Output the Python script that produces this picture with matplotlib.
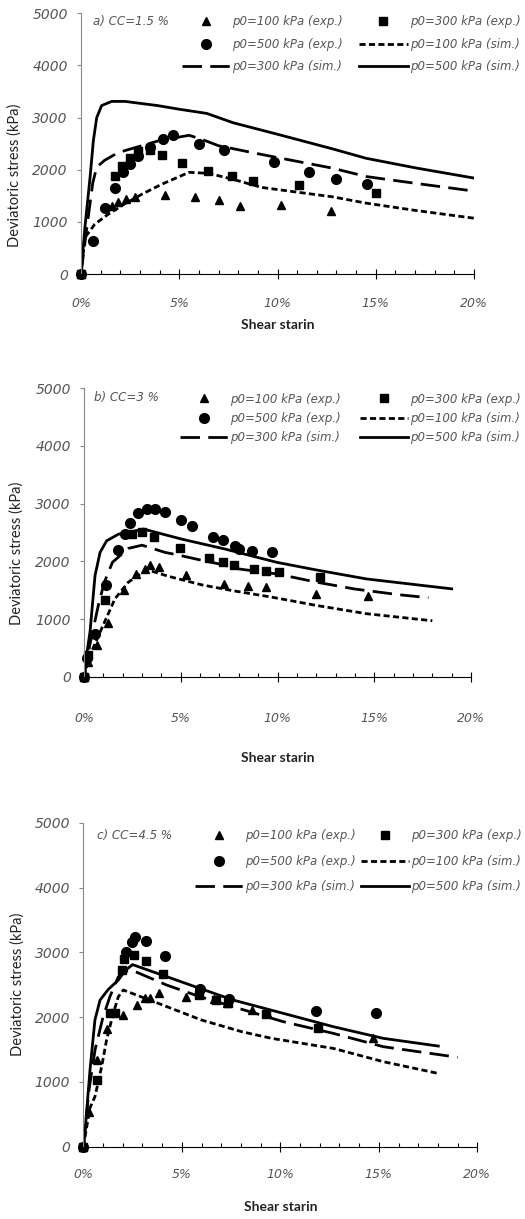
import matplotlib
matplotlib.use("Agg")
import matplotlib.pyplot as plt
from matplotlib.ticker import MultipleLocator, PercentFormatter

# ---- panel a) CC = 1.5 % ----
a_tri_x = [0, 1.6, 1.9, 2.3, 2.75, 4.3, 5.8, 7.0, 8.1, 10.2, 12.7]
a_tri_y = [0, 1300, 1390, 1440, 1470, 1515, 1480, 1420, 1310, 1320, 1215]
a_sq_x = [0, 1.73, 2.1, 2.5, 2.9, 3.5, 4.1, 5.15, 6.45, 7.7, 8.75, 11.1, 15.0]
a_sq_y = [0, 1880, 2080, 2230, 2350, 2370, 2290, 2120, 1980, 1870, 1790, 1700, 1550]
a_circ_x = [0, 0.63, 1.2, 1.73, 2.12, 2.5, 2.92, 3.5, 4.17, 4.7, 6.0, 7.27, 9.8, 11.6, 13.0, 14.55]
a_circ_y = [0, 640, 1260, 1645, 1955, 2115, 2270, 2440, 2585, 2675, 2490, 2380, 2145, 1950, 1820, 1725]
a_s100_x = [0, 0.2, 0.7, 1.4, 2.2, 3.1, 4.1, 5.5, 6.5, 7.7, 9.2, 11.0, 12.8, 14.5, 17.1, 20.0]
a_s100_y = [0, 700, 955, 1150, 1340, 1530, 1720, 1950, 1930, 1820, 1660, 1570, 1480, 1360, 1215, 1070]
a_s300_x = [0, 0.3, 0.6, 0.8, 1.2, 1.9, 3.0, 4.0, 5.5, 6.1, 7.0, 8.7, 9.9, 12.8, 14.5, 17.0, 20.0]
a_s300_y = [0, 900, 1750, 2050, 2180, 2330, 2450, 2560, 2660, 2590, 2460, 2330, 2240, 2030, 1870, 1740, 1590]
a_s500_x = [0, 0.2, 0.46, 0.63, 0.8, 1.05, 1.56, 2.24, 3.9, 5.0, 6.4, 7.75, 10.0, 12.8, 14.5, 17.1, 20.0]
a_s500_y = [0, 900, 1850, 2560, 3000, 3230, 3310, 3310, 3230, 3160, 3080, 2900, 2680, 2400, 2220, 2030, 1840]

# ---- panel b) CC = 3 % ----
b_tri_x = [0, 0.22, 0.66, 1.22, 2.09, 2.67, 3.16, 3.41, 3.86, 5.28, 7.21, 8.5, 9.41, 12.0, 14.7]
b_tri_y = [0, 260, 546, 937, 1511, 1782, 1868, 1943, 1908, 1764, 1609, 1580, 1552, 1437, 1391]
b_sq_x = [0, 0.22, 1.1, 2.46, 2.98, 3.63, 4.97, 6.48, 7.18, 7.75, 8.8, 9.42, 10.1, 12.2]
b_sq_y = [0, 370, 1330, 2470, 2510, 2414, 2235, 2060, 1990, 1945, 1870, 1828, 1822, 1724]
b_circ_x = [0, 0.14, 0.58, 1.14, 1.75, 2.14, 2.36, 2.79, 3.24, 3.67, 4.17, 4.99, 5.57, 6.69, 7.17, 7.81, 8.02, 8.66, 9.73]
b_circ_y = [0, 316, 747, 1592, 2200, 2471, 2665, 2830, 2902, 2908, 2856, 2724, 2620, 2422, 2365, 2270, 2213, 2184, 2160]
b_s100_x = [0, 0.31, 0.91, 1.6, 2.29, 2.98, 3.41, 4.36, 6.09, 7.64, 9.71, 12.0, 14.6, 18.0]
b_s100_y = [0, 374, 833, 1351, 1638, 1799, 1839, 1741, 1592, 1494, 1379, 1236, 1092, 970]
b_s300_x = [0, 0.3, 0.74, 1.05, 1.47, 2.29, 3.0, 4.19, 4.88, 6.17, 7.0, 8.0, 10.0, 12.0, 14.0, 16.3, 17.8]
b_s300_y = [0, 550, 1236, 1638, 1983, 2224, 2280, 2155, 2109, 2011, 1954, 1868, 1780, 1640, 1520, 1420, 1370]
b_s500_x = [0, 0.1, 0.31, 0.57, 0.83, 1.17, 1.78, 2.29, 3.07, 5.05, 7.29, 9.96, 12.0, 14.6, 19.0]
b_s500_y = [0, 300, 776, 1753, 2155, 2356, 2471, 2500, 2560, 2385, 2213, 1983, 1851, 1695, 1523]

# ---- panel c) CC = 4.5 % ----
c_tri_x = [0, 0.3, 0.7, 1.2, 2.03, 2.71, 3.15, 3.38, 3.86, 5.21, 6.63, 7.28, 8.54, 9.31, 11.93, 14.72]
c_tri_y = [0, 540, 1337, 1811, 2032, 2186, 2289, 2289, 2366, 2305, 2274, 2222, 2109, 2058, 1852, 1672]
c_sq_x = [0, 0.71, 1.35, 1.61, 1.95, 2.08, 2.59, 3.16, 4.06, 5.85, 6.73, 7.36, 9.26, 11.93]
c_sq_y = [0, 1029, 2058, 2058, 2726, 2891, 2958, 2865, 2660, 2340, 2263, 2222, 2042, 1826]
c_circ_x = [0, 2.17, 2.45, 2.62, 3.16, 4.15, 5.92, 7.41, 11.81, 14.86]
c_circ_y = [0, 3009, 3163, 3241, 3174, 2942, 2428, 2274, 2094, 2058]
c_s100_x = [0, 0.34, 0.59, 0.93, 1.18, 1.52, 1.78, 2.03, 3.81, 6.0, 8.04, 9.56, 12.69, 15.23, 18.0]
c_s100_y = [0, 600, 772, 1234, 1646, 2058, 2315, 2418, 2212, 1955, 1775, 1672, 1517, 1312, 1132]
c_s300_x = [0, 0.3, 0.6, 1.0, 1.35, 1.78, 2.08, 2.45, 4.23, 5.92, 7.61, 10.15, 12.69, 15.23, 19.0]
c_s300_y = [0, 900, 1500, 2000, 2315, 2623, 2700, 2726, 2495, 2315, 2160, 1929, 1749, 1543, 1380]
c_s500_x = [0, 0.08, 0.34, 0.59, 0.85, 1.27, 1.78, 2.12, 2.5, 5.92, 7.61, 10.15, 12.69, 15.23, 18.02]
c_s500_y = [0, 206, 1183, 1955, 2263, 2428, 2572, 2716, 2810, 2443, 2263, 2058, 1852, 1672, 1553]

labels = ["p0=100 kPa (exp.)", "p0=300 kPa (exp.)", "p0=500 kPa (exp.)",
          "p0=100 kPa (sim.)", "p0=300 kPa (sim.)", "p0=500 kPa (sim.)"]
titles = ["a) CC=1.5 %", "b) CC=3 %", "c) CC=4.5 %"]

GRAY = "#555555"
AXGRAY = "#888888"
W, H = 525, 1219
LEG_FS = 8.5

fig = plt.figure(figsize=(W / 100, H / 100), dpi=100)


def px(x, y):
    # pixel position -> figure fraction
    return x / W, 1 - y / H


def draw_panel(rect, data, title, title_xy, leg_xy, leg_space, col_space,
               tick_pad, ylab_pos, xlab_y):
    ax = fig.add_axes(rect)
    (tx, ty), (sx, sy), (cx, cy), (x1, y1), (x3, y3), (x5, y5) = data
    h_tri, = ax.plot(tx, ty, ls="none", marker="^", ms=6, color="black", clip_on=False)
    h_sq, = ax.plot(sx, sy, ls="none", marker="s", ms=5.5, color="black", clip_on=False)
    h_ci, = ax.plot(cx, cy, ls="none", marker="o", ms=7, color="black", clip_on=False)
    h_1, = ax.plot(x1, y1, color="black", lw=2, dashes=(2.2, 1.2))
    h_3, = ax.plot(x3, y3, color="black", lw=2, dashes=(7, 3))
    h_5, = ax.plot(x5, y5, color="black", lw=2)

    ax.set_xlim(0, 20)
    ax.set_ylim(0, 5000)
    ax.xaxis.set_major_locator(MultipleLocator(5))
    ax.xaxis.set_minor_locator(MultipleLocator(1))
    ax.xaxis.set_major_formatter(PercentFormatter(xmax=100, decimals=0))
    ax.yaxis.set_major_locator(MultipleLocator(1000))

    for s in ["top", "right"]:
        ax.spines[s].set_visible(False)
    ax.spines["left"].set_color(AXGRAY)
    ax.spines["bottom"].set_color("black")
    ax.tick_params(axis="x", which="major", direction="inout", length=7, width=0.8,
                   pad=tick_pad, labelsize=9, labelcolor=GRAY)
    ax.tick_params(axis="x", which="minor", direction="in", length=2.8, width=0.8)
    ax.tick_params(axis="y", direction="out", length=3, color=AXGRAY,
                   labelsize=10, labelcolor=GRAY, pad=6.5)
    for lab in ax.get_xticklabels() + ax.get_yticklabels():
        lab.set_fontstyle("italic")

    ax.set_ylabel("Deviatoric stress (kPa)", family="Lato", fontsize=10.5, color="#222222")
    ax.yaxis.label.set_va("center")
    ax.yaxis.set_label_coords(*ylab_pos)
    ax.set_xlabel("Shear starin", family="Lato", fontsize=10, fontweight="bold", color="#222222")
    ax.xaxis.set_label_coords(0.5, xlab_y)
    ax.xaxis.label.set_va("center")

    fig.text(*px(*title_xy), title, fontsize=8.6, style="italic", color=GRAY, va="center")

    handles = [h_tri, h_ci, h_3, h_sq, h_1, h_5]
    labs = [labels[0], labels[2], labels[4], labels[1], labels[3], labels[5]]
    ax.legend(handles, labs, ncol=2, loc="upper left", bbox_to_anchor=px(*leg_xy),
              bbox_transform=fig.transFigure, frameon=False, borderpad=0,
              borderaxespad=0, labelcolor=GRAY, prop={"style": "italic", "size": LEG_FS},
              handlelength=4.07, handletextpad=0.18, columnspacing=col_space,
              labelspacing=leg_space, numpoints=1)
    return ax


draw_panel([81 / W, 1 - 274 / H, 393 / W, 260.7 / H],
           [(a_tri_x, a_tri_y), (a_sq_x, a_sq_y), (a_circ_x, a_circ_y),
            (a_s100_x, a_s100_y), (a_s300_x, a_s300_y), (a_s500_x, a_s500_y)],
           titles[0], (93, 21), (182, 15.5), 0.8, 1.4, 13, (-0.168, 0.38), -0.196)

draw_panel([84 / W, 1 - 676.7 / H, 387 / W, 288.4 / H],
           [(b_tri_x, b_tri_y), (b_sq_x, b_sq_y), (b_circ_x, b_circ_y),
            (b_s100_x, b_s100_y), (b_s300_x, b_s300_y), (b_s500_x, b_s500_y)],
           titles[1], (94, 398), (180, 392.5), 0.54, 1.6, 21.8, (-0.174, 0.427), -0.282)

draw_panel([83.3 / W, 1 - 1146.7 / H, 394 / W, 324 / H],
           [(c_tri_x, c_tri_y), (c_sq_x, c_sq_y), (c_circ_x, c_circ_y),
            (c_s100_x, c_s100_y), (c_s300_x, c_s300_y), (c_s500_x, c_s500_y)],
           titles[2], (97, 835), (195, 829.5), 1.05, 0.45, 11.7, (-0.166, 0.50), -0.186)

fig.savefig("out.png", dpi=100)
